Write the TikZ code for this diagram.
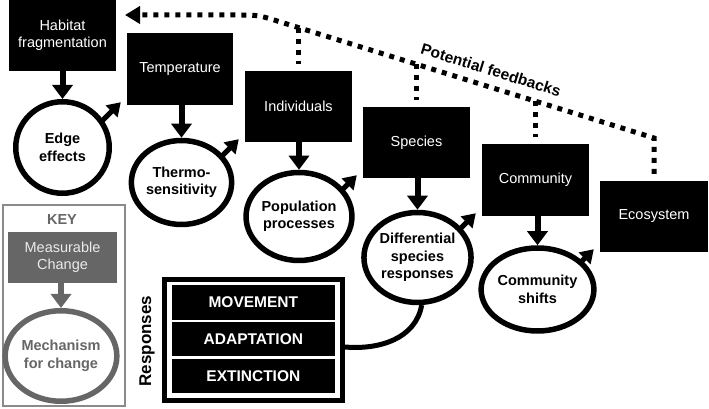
\documentclass[tikz,border=0pt]{standalone}
\usepackage{fontspec}
\setmainfont{Liberation Sans}
\usetikzlibrary{arrows.meta,shapes.geometric,calc}
\definecolor{keyfill}{HTML}{666666}
\definecolor{keyline}{HTML}{8A8A8A}
\definecolor{keytext}{HTML}{EBEBEB}
\begin{document}
\begin{tikzpicture}[x=1pt,y=1pt,
  levelbox/.style={fill=black,text=white,minimum width=107pt,minimum height=71pt,inner sep=0pt,align=center,font=\fontsize{14.5}{17.5}\selectfont},
  mechcirc/.style={ellipse,draw=black,line width=5.5pt,fill=white,inner sep=0pt,align=center,font=\fontsize{14.5}{17.5}\selectfont\bfseries},
  downarrow/.style={line width=6pt,-{Triangle[width=20pt,length=14pt]}},
  malearrow/.style={line width=5pt,-{Triangle[width=16pt,length=13pt]}},
  fbline/.style={line width=5pt,dash pattern=on 5pt off 6pt},
  resprow/.style={fill=black,text=white,minimum width=163.3pt,minimum height=34.5pt,inner sep=0pt,font=\fontsize{15.5}{18}\selectfont\bfseries},
]
\useasboundingbox (0,0) rectangle (709,409);

% level boxes
\node[levelbox] (hab)  at (62.5,373.5) {Habitat\\fragmentation};
\node[levelbox,minimum width=106pt,minimum height=72pt] (temp) at (180,340) {Temperature};
\node[levelbox] (ind)  at (298.5,302.5) {Individuals};
\node[levelbox] (spec) at (416.5,266.5) {Species};
\node[levelbox,minimum height=72pt] (comm) at (535.5,229) {Community};
\node[levelbox,minimum width=108pt] (eco)  at (654,192.5) {Ecosystem};

% feedback line
\coordinate (fbE) at (653.5,271);
\coordinate (fbW) at (258,394);
\coordinate (fbTip) at (125,394);
\draw[fbline,shorten <=7pt,-{Triangle[width=17pt,length=15pt]}] (eco.north) -- (eco.north |- fbE)
  -- ($(fbW)!22pt!(fbE)$) .. controls (fbW) .. ($(fbW)!22pt!(fbTip)$) -- (fbTip);
\coordinate (s1) at ($(fbE)!0.8976!(fbW)$);
\coordinate (s2) at ($(fbE)!0.5992!(fbW)$);
\coordinate (s3) at ($(fbE)!0.2984!(fbW)$);
\draw[fbline,shorten >=7pt] (ind.north |- s1) -- (ind.north);
\draw[fbline,shorten >=7pt] (spec.north |- s2) -- (spec.north);
\draw[fbline,shorten >=7pt] (comm.north |- s3) -- (comm.north);
\node[font=\fontsize{15.5}{18}\selectfont\bfseries,rotate=-17.3] (fbl) at (491,339) {Potential feedbacks};

% male-symbol arrows (drawn before circles)
\coordinate (t1) at ($(temp.south west)+(-6,3)$);
\coordinate (t2) at ($(ind.south west)+(-6,3)$);
\coordinate (t3) at ($(spec.south west)+(-6,3)$);
\coordinate (t4) at ($(comm.south west)+(-6,3)$);
\coordinate (t5) at ($(eco.south west)+(-6,3)$);
\draw[malearrow] ($(t1)+(-32,-32)$) -- (t1);
\draw[malearrow] ($(t2)+(-32,-32)$) -- (t2);
\draw[malearrow] ($(t3)+(-32,-32)$) -- (t3);
\draw[malearrow] ($(t4)+(-32,-32)$) -- (t4);
\draw[malearrow] ($(t5)+(-32,-32)$) -- (t5);

% responses
\node[draw=black,line width=5pt,fill=white,minimum width=178.3pt,minimum height=121.6pt,inner sep=0pt] (frame) at (253.35,69) {};
\node[resprow] (mov) at (253.35,106.5) {MOVEMENT};
\node[resprow] (ada) at (253.35,70) {ADAPTATION};
\node[resprow] (ext) at (253.35,32.8) {EXTINCTION};
\node[rotate=90,font=\fontsize{17}{20}\selectfont\bfseries] (resp) at (147,68) {Responses};

% circles
\node[mechcirc,minimum width=93.5pt,minimum height=91.5pt] (edge)   at (62.5,261.5) {Edge\\effects};
\node[mechcirc,minimum width=94.5pt,minimum height=84pt] (thermo) at (181.5,226.5) {Thermo-\\sensitivity};
\node[mechcirc,minimum width=92.5pt,minimum height=88pt] (pop)    at (299,192.5) {Population\\processes};
\node[mechcirc,minimum width=103.5pt,minimum height=90pt] (diff)  at (417.5,151.5) {Differential\\species\\responses};
\node[mechcirc,minimum width=86.5pt,minimum height=83pt] (cshift) at (537.5,119.5) {Community\\shifts};

\coordinate (rc) at ([yshift=-7pt]frame.east);
\draw[line width=5pt] (rc) to[out=-5,in=-100] (diff.-85);

% down arrows
\draw[downarrow] (edge.north |- hab.south) -- (edge.north);
\draw[downarrow] (thermo.north |- temp.south) -- (thermo.north);
\draw[downarrow] (pop.north |- ind.south) -- (pop.north);
\draw[downarrow] (diff.north |- spec.south) -- (diff.north);
\draw[downarrow] (cshift.north |- comm.south) -- (cshift.north);

% key
\node[draw=keyline,line width=2pt,minimum width=122pt,minimum height=201pt,inner sep=0pt] (keybox) at (64,103.5) {};
\node[text=keyfill,font=\fontsize{14.5}{17.5}\selectfont\bfseries] (keyt) at (62,189) {KEY};
\node[fill=keyfill,text=keytext,minimum width=109pt,minimum height=51pt,inner sep=0pt,align=center,font=\fontsize{14.5}{17.5}\selectfont] (meas) at (62.5,151.5) {Measurable\\Change};
\node[mechcirc,draw=keyfill,text=keyfill,minimum width=92.5pt,minimum height=90.5pt] (mech) at (61,53) {Mechanism\\for change};
\draw[downarrow,draw=keyfill,fill=keyfill] (mech.north |- meas.south) -- (mech.north);
\end{tikzpicture}
\end{document}
